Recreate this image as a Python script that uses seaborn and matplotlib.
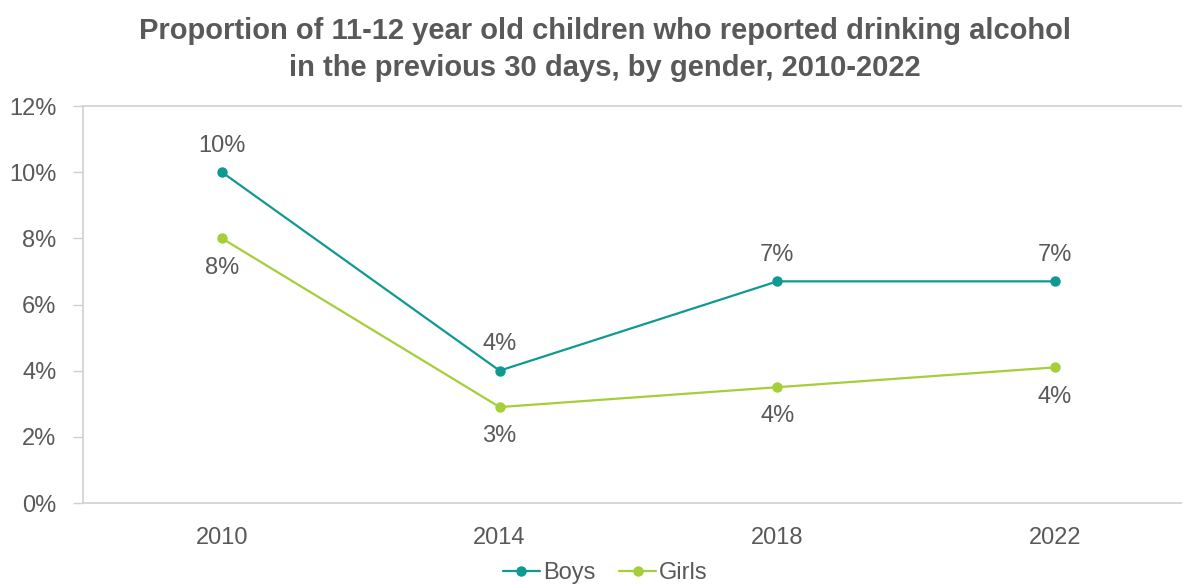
import matplotlib
matplotlib.use("Agg")
import matplotlib.pyplot as plt
import seaborn as sns
import pandas as pd
from matplotlib.ticker import FixedLocator, PercentFormatter

years = ["2010", "2014", "2018", "2022"]
boys = [10.0, 4.0, 6.7, 6.7]
girls = [8.0, 2.9, 3.5, 4.1]
boys_labels = ["10%", "4%", "7%", "7%"]
girls_labels = ["8%", "3%", "4%", "4%"]

series_colors = {"Boys": "#0E9A93", "Girls": "#A6CE39"}
text_color = "#595959"
axis_color = "#D0D0D0"
label_size = 17

df = pd.DataFrame({
    "pos": list(range(len(years))) * 2,
    "value": boys + girls,
    "gender": ["Boys"] * len(years) + ["Girls"] * len(years),
})

sns.set_theme(style="white")
plt.rcParams["font.family"] = ["Liberation Sans", "DejaVu Sans"]

fig = plt.figure(figsize=(11.82, 5.85), dpi=100)
ax = fig.add_axes([83 / 1182, 1 - 503 / 585, (1194 - 83) / 1182, (503 - 106) / 585])

sns.lineplot(data=df, x="pos", y="value", hue="gender", palette=series_colors,
             marker="o", markersize=7.5, markeredgewidth=0, linewidth=1.6, ax=ax)

ax.set_xlim(-0.5, len(years) - 0.5)
ax.set_ylim(0, 12)
ax.set_yticks([0, 2, 4, 6, 8, 10, 12])
ax.yaxis.set_major_formatter(PercentFormatter(decimals=0))
ax.set_xticks(range(len(years)))
ax.set_xticklabels(years)
ax.xaxis.set_minor_locator(FixedLocator([i - 0.5 for i in range(len(years) + 1)]))
ax.tick_params(axis="x", which="major", length=0, pad=17, labelsize=label_size, labelcolor=text_color)
ax.tick_params(axis="x", which="minor", length=7, width=1, color=axis_color, direction="out")
ax.tick_params(axis="y", which="major", length=7, width=1, color=axis_color, pad=12,
               labelsize=label_size, labelcolor=text_color, left=True)
ax.set_xlabel("")
ax.set_ylabel("")

for side in ["left", "bottom", "top"]:
    ax.spines[side].set_color(axis_color)
    ax.spines[side].set_linewidth(1.2)
ax.spines["right"].set_visible(False)

for i, (v, lab) in enumerate(zip(boys, boys_labels)):
    ax.annotate(lab, (i, v), xytext=(0, 19), textcoords="offset points",
                ha="center", va="center", fontsize=label_size, color=text_color)
for i, (v, lab) in enumerate(zip(girls, girls_labels)):
    ax.annotate(lab, (i, v), xytext=(0, -21), textcoords="offset points",
                ha="center", va="center", fontsize=label_size, color=text_color)

fig.suptitle("Proportion of 11-12 year old children who reported drinking alcohol\n"
             "in the previous 30 days, by gender, 2010-2022",
             x=605 / 1182, y=1 - 17 / 585, va="top", fontsize=21, fontweight="bold",
             color=text_color, linespacing=1.4)

handles, labels = ax.get_legend_handles_labels()
ax.legend_.remove()
fig.legend(handles, labels, loc="center", bbox_to_anchor=(605 / 1182, 1 - 573 / 585),
           ncol=2, frameon=False, fontsize=label_size, labelcolor=text_color,
           handlelength=1.6, handletextpad=0.1, columnspacing=1.0)

fig.savefig("out.png", dpi=100)
